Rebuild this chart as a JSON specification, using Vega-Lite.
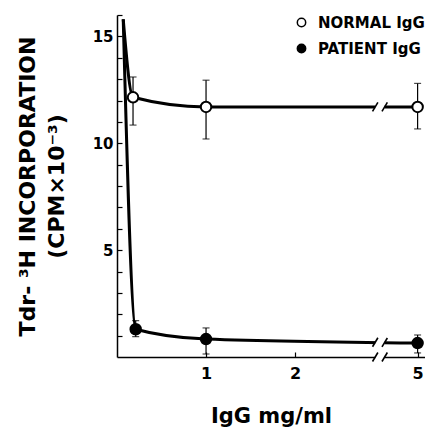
{
  "$schema": "https://vega.github.io/schema/vega-lite/v6.json",
  "autosize": "none",
  "padding": {"left": 117, "top": 15, "right": 0, "bottom": 73},
  "width": 308,
  "height": 342,
  "background": "white",
  "config": {
    "view": {"stroke": null},
    "font": "DejaVu Sans",
    "style": {"guide-title": {"lineBreak": "\n"}},
    "axis": {
      "domainColor": "black", "domainWidth": 1.5, "tickColor": "black", "tickWidth": 1.2,
      "labelColor": "black", "labelFont": "DejaVu Sans", "labelFontWeight": "bold", "labelFontSize": 15,
      "titleColor": "black", "titleFont": "DejaVu Sans", "titleFontWeight": "bold",
      "grid": false, "labelOverlap": false
    },
    "axisY": {"labelOverlap": false, "tickSize": -5, "labelPadding": 9, "titleFontSize": 22, "titleLineHeight": 29, "titlePadding": 24},
    "axisX": {"tickSize": -5, "labelPadding": 13, "labelFontSize": 16, "titleFontSize": 21, "titlePadding": 24},
    "legend": {
      "orient": "top-right", "offset": 0, "padding": 0, "rowPadding": 10,
      "labelFont": "DejaVu Sans", "labelFontWeight": "bold", "labelFontSize": 15, "labelColor": "black",
      "symbolSize": 70, "symbolStrokeColor": "black", "symbolStrokeWidth": 1.5, "labelOffset": 9, "title": null
    }
  },
  "datasets": {
    "curves": [
      {"series": "NORMAL IgG", "dose": 0.07, "cpm": 15.8, "lo": null, "hi": null},
      {"series": "NORMAL IgG", "dose": 0.18, "cpm": 12.15, "lo": 10.85, "hi": 13.1},
      {"series": "NORMAL IgG", "dose": 1, "cpm": 11.7, "lo": 10.2, "hi": 12.95},
      {"series": "NORMAL IgG", "dose": 5, "cpm": 11.7, "lo": 10.67, "hi": 12.8},
      {"series": "PATIENT IgG", "dose": 0.07, "cpm": 15.8, "lo": null, "hi": null},
      {"series": "PATIENT IgG", "dose": 0.21, "cpm": 1.3, "lo": 0.95, "hi": 1.7},
      {"series": "PATIENT IgG", "dose": 1, "cpm": 0.84, "lo": 0.14, "hi": 1.36},
      {"series": "PATIENT IgG", "dose": 5, "cpm": 0.65, "lo": 0.19, "hi": 1.03}
    ],
    "breaks": [
      {"dose": 2.9, "cpm": 11.7},
      {"dose": 4.63, "cpm": 11.7},
      {"dose": 2.9, "cpm": 0.69},
      {"dose": 4.63, "cpm": 0.68},
      {"dose": 2.9, "cpm": 0},
      {"dose": 4.63, "cpm": 0}
    ],
    "gap": [{"from": 2.9, "to": 4.63, "bottom": -0.35, "top": 16}]
  },
  "layer": [
    {
      "data": {"name": "curves"},
      "mark": {"type": "line", "color": "black", "strokeWidth": 3, "interpolate": "monotone"},
      "encoding": {
        "x": {"field": "dose", "type": "quantitative",
              "scale": {"domain": [0, 2.92, 4.6, 5.083], "range": [0, 260, 265, 308], "nice": false, "zero": false},
              "axis": {"title": "IgG mg/ml", "values": [1, 2, 5], "format": "d"}},
        "y": {"field": "cpm", "type": "quantitative",
              "scale": {"domain": [0, 16], "nice": false, "zero": false},
              "axis": {"title": "Tdr- ³H INCORPORATION\n(CPM×10⁻³)",
                       "values": [1,2,3,4,5,6,7,8,9,10,11,12,13,14,15,16], "labelOverlap": false,
                       "labelExpr": "datum.value % 5 === 0 ? datum.label : ''"}},
        "detail": {"field": "series"}
      }
    },
    {
      "data": {"name": "gap"},
      "mark": {"type": "rect", "color": "white"},
      "encoding": {
        "x": {"field": "from", "type": "quantitative",
              "axis": {"title": "IgG mg/ml", "values": [1, 2, 5], "format": "d"}},
        "x2": {"field": "to"},
        "y": {"field": "bottom", "type": "quantitative",
              "axis": {"title": "Tdr- ³H INCORPORATION\n(CPM×10⁻³)",
                       "values": [1,2,3,4,5,6,7,8,9,10,11,12,13,14,15,16], "labelOverlap": false,
                       "labelExpr": "datum.value % 5 === 0 ? datum.label : ''"}},
        "y2": {"field": "top"}
      }
    },
    {
      "data": {"name": "breaks"},
      "mark": {"type": "point", "shape": "M -0.6 1 L 0.6 -1", "stroke": "black", "strokeWidth": 1.6, "size": 80, "filled": false, "opacity": 1},
      "encoding": {
        "x": {"field": "dose", "type": "quantitative",
              "axis": {"title": "IgG mg/ml", "values": [1, 2, 5], "format": "d"}},
        "y": {"field": "cpm", "type": "quantitative",
              "axis": {"title": "Tdr- ³H INCORPORATION\n(CPM×10⁻³)",
                       "values": [1,2,3,4,5,6,7,8,9,10,11,12,13,14,15,16], "labelOverlap": false,
                       "labelExpr": "datum.value % 5 === 0 ? datum.label : ''"}}
      }
    },
    {
      "data": {"name": "curves"},
      "transform": [{"filter": "isValid(datum.lo)"}],
      "mark": {"type": "errorbar", "ticks": {"size": 7, "color": "black", "thickness": 1.2}, "rule": {"color": "black", "strokeWidth": 1.2}},
      "encoding": {
        "x": {"field": "dose", "type": "quantitative",
              "axis": {"title": "IgG mg/ml", "values": [1, 2, 5], "format": "d"}},
        "y": {"field": "lo", "type": "quantitative",
              "axis": {"title": "Tdr- ³H INCORPORATION\n(CPM×10⁻³)",
                       "values": [1,2,3,4,5,6,7,8,9,10,11,12,13,14,15,16], "labelOverlap": false,
                       "labelExpr": "datum.value % 5 === 0 ? datum.label : ''"}},
        "y2": {"field": "hi"}
      }
    },
    {
      "data": {"name": "curves"},
      "transform": [{"filter": "isValid(datum.lo)"}],
      "mark": {"type": "point", "shape": "circle", "filled": true, "stroke": "black", "strokeWidth": 2, "size": 110, "opacity": 1},
      "encoding": {
        "x": {"field": "dose", "type": "quantitative",
              "axis": {"title": "IgG mg/ml", "values": [1, 2, 5], "format": "d"}},
        "y": {"field": "cpm", "type": "quantitative",
              "axis": {"title": "Tdr- ³H INCORPORATION\n(CPM×10⁻³)",
                       "values": [1,2,3,4,5,6,7,8,9,10,11,12,13,14,15,16], "labelOverlap": false,
                       "labelExpr": "datum.value % 5 === 0 ? datum.label : ''"}},
        "fill": {"field": "series", "type": "nominal", "scale": {"range": ["white", "black"]}}
      }
    }
  ]
}
